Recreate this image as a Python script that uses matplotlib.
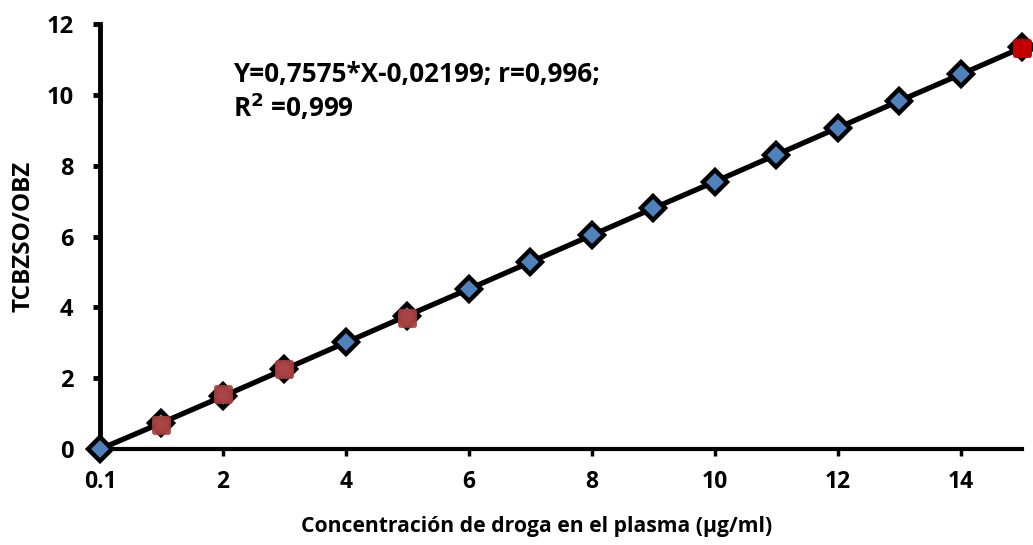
import matplotlib.pyplot as plt
from matplotlib.markers import MarkerStyle

plt.rcParams['font.family'] = ['Open Sans', 'DejaVu Sans']
plt.rcParams['font.weight'] = 'bold'

# calibration curve points
conc = [0, 1, 2, 3, 4, 5, 6, 7, 8, 9, 10, 11, 12, 13, 14, 15]
ratio = [0.0, 0.74, 1.49, 2.25, 3.01, 3.77, 4.52, 5.28, 6.04, 6.80,
         7.55, 8.31, 9.07, 9.83, 10.58, 11.34]

# control samples
ctrl_conc = [1, 2, 3, 5]
ctrl_ratio = [0.68, 1.55, 2.26, 3.71]
top_conc = [15]
top_ratio = [11.32]

x_ticks = [0, 2, 4, 6, 8, 10, 12, 14]
x_tick_labels = ['0.1', '2', '4', '6', '8', '10', '12', '14']
y_ticks = [0, 2, 4, 6, 8, 10, 12]

fig = plt.figure(figsize=(10.33, 5.45), dpi=100)
ax = fig.add_axes([0.0968, 0.176, 0.893, 0.780])

ax.plot(conc, ratio, color='black', lw=3.8, zorder=3, clip_on=False,
        marker='D', ms=12, mfc='#4F81BD', mec='black', mew=3.2)

sq = MarkerStyle('s', joinstyle='round')
ax.plot(ctrl_conc, ctrl_ratio, ls='none', marker=sq, ms=10, mfc='#B0403E',
        mec='#A8403E', mew=3.5, alpha=0.92, zorder=4, clip_on=False)
ax.plot(top_conc, top_ratio, ls='none', marker=sq, ms=10.5, mfc='#C00000',
        mec='#C00000', mew=3.5, zorder=4, clip_on=False)

ax.set_xlim(0, 15)
ax.set_ylim(0, 12)
ax.set_xticks(x_ticks)
ax.set_xticklabels(x_tick_labels, fontweight='bold', fontsize=16.5)
ax.set_yticks(y_ticks)
ax.set_yticklabels([str(v) for v in y_ticks], fontweight='bold', fontsize=17)

for side in ['top', 'right']:
    ax.spines[side].set_visible(False)
ax.spines['left'].set_linewidth(3.5)
ax.spines['bottom'].set_linewidth(3)
ax.axhline(0, color='white', lw=0.7, zorder=2.5, clip_on=False)

ax.tick_params(axis='y', direction='out', length=5, width=3.5, pad=14)
ax.tick_params(axis='x', direction='out', length=5, width=2.5, pad=10)

ax.set_xlabel('Concentración de droga en el plasma (µg/ml)', fontsize=15.2,
              fontweight='bold')
ax.xaxis.set_label_coords(0.473, -0.158)
ax.set_ylabel('TCBZSO/OBZ', fontsize=17.5, fontweight='bold')
ax.yaxis.set_label_coords(-0.07, 0.5)

ax.text(2.17, 10.08, 'Y=0,7575*X-0,02199; r=0,996;\nR$^{\\mathbf{2}}$ =0,999',
        fontsize=18.8, fontweight='bold', va='center', linespacing=1.1)

fig.savefig('out.png', dpi=100)
